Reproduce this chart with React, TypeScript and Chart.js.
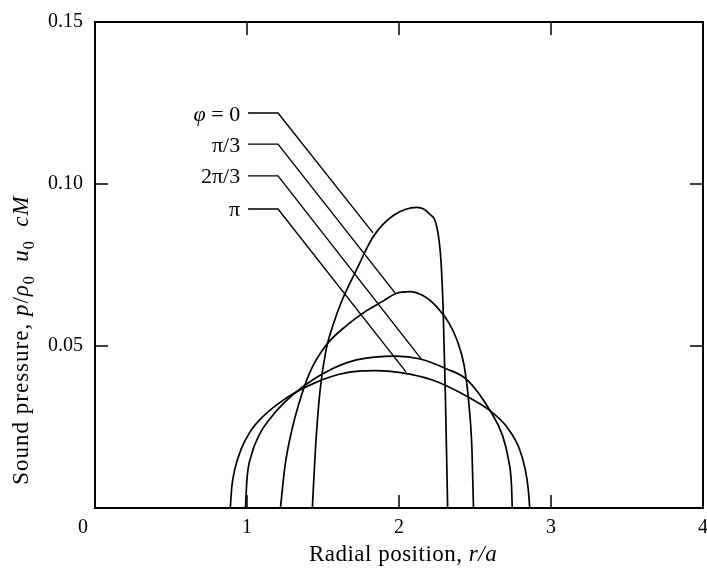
import React, { useEffect, useRef } from "react";
import { Chart, registerables } from "chart.js";

Chart.register(...registerables);

// ---- curve data (r/a, p/ρ0u0cM) ----
const phi0X = [1.43, 1.45, 1.48, 1.52, 1.57, 1.62, 1.72, 1.83, 1.96, 2.12, 2.2, 2.25, 2.275, 2.29, 2.305, 2.32];
const phi0Y = [0, 0.018, 0.036, 0.0488, 0.057, 0.0635, 0.0735, 0.0837, 0.0902, 0.0928, 0.0908, 0.0865, 0.077, 0.062, 0.035, 0];

const pi3X = [1.22, 1.25, 1.29, 1.34, 1.41, 1.52, 1.66, 1.79, 1.9, 1.98, 2.07, 2.16, 2.25, 2.33, 2.38, 2.43, 2.46, 2.48, 2.49];
const pi3Y = [0, 0.013, 0.023, 0.032, 0.0415, 0.0502, 0.0565, 0.061, 0.064, 0.0662, 0.0668, 0.0655, 0.062, 0.057, 0.052, 0.0436, 0.032, 0.018, 0];

const twoPi3X = [0.99, 1.0, 1.03, 1.08, 1.15, 1.24, 1.37, 1.52, 1.72, 1.98, 2.14, 2.31, 2.45, 2.6, 2.68, 2.72, 2.74, 2.745];
const twoPi3Y = [0, 0.009, 0.0165, 0.0225, 0.0275, 0.0323, 0.0375, 0.042, 0.0457, 0.0469, 0.046, 0.043, 0.0395, 0.03, 0.0225, 0.015, 0.007, 0];

const piX = [0.89, 0.9, 0.92, 0.96, 1.02, 1.1, 1.2, 1.32, 1.45, 1.6, 1.75, 1.85, 2.01, 2.22, 2.45, 2.6, 2.71, 2.79, 2.83, 2.85, 2.86];
const piY = [0, 0.0065, 0.012, 0.018, 0.0235, 0.028, 0.032, 0.0357, 0.0387, 0.0412, 0.0423, 0.0424, 0.0418, 0.0395, 0.0344, 0.03, 0.025, 0.0185, 0.012, 0.006, 0];

// ---- curve labels with leader lines ----
const labelNames = ["φ = 0", "π/3", "2π/3", "π"];
const labelTextX = 0.955; // right edge of label text (data units)
const leaderStartX = 1.007;
const leaderCornerX = 1.204;
const leaderY = [0.1219, 0.1123, 0.1025, 0.0923];
const leaderEndX = [1.829, 1.974, 2.151, 2.046];
const leaderEndY = [0.0849, 0.0664, 0.0457, 0.042];

// ---- axes ----
const xMin = 0, xMax = 4, xStep = 1;
const yMin = 0, yMax = 0.15, yStep = 0.05;
const xInnerTicks = [1, 2, 3];
const yInnerTicks = [0.05, 0.1];
const originLabel = "0";
const xTitle = "Radial position, ";
const xTitleItalic = "r/a";

const FONT = "'Liberation Serif', 'DejaVu Serif', serif";

const toPts = (xs: number[], ys: number[]) => xs.map((x, i) => ({ x, y: ys[i] }));

type Run = { t: string; it?: boolean; sub?: boolean };

function drawRuns(
  ctx: CanvasRenderingContext2D,
  runs: Run[],
  size: number,
  align: "center" | "right",
  spacing = 0
) {
  const fontFor = (r: Run) => `${r.it ? "italic " : ""}${r.sub ? Math.round(size * 0.7) : size}px ${FONT}`;
  (ctx as any).letterSpacing = spacing + "px";
  let total = 0;
  const widths = runs.map((r) => {
    ctx.font = fontFor(r);
    const w = ctx.measureText(r.t).width;
    total += w;
    return w;
  });
  let cx = align === "center" ? -total / 2 : -total;
  ctx.textAlign = "left";
  ctx.textBaseline = "alphabetic";
  runs.forEach((r, i) => {
    ctx.font = fontFor(r);
    ctx.fillText(r.t, cx, r.sub ? size * 0.25 : 0);
    cx += widths[i];
  });
  (ctx as any).letterSpacing = "0px";
}

const decorPlugin = {
  id: "decor",
  afterDraw(chart: any) {
    const { ctx, chartArea, scales } = chart;
    const { left, right, top, bottom } = chartArea;
    const xs = scales.x, ys = scales.y;
    ctx.save();
    ctx.strokeStyle = "#000";
    ctx.fillStyle = "#000";
    ctx.lineWidth = 2;
    ctx.beginPath();
    ctx.moveTo(left, top);
    ctx.lineTo(right, top);
    ctx.lineTo(right, bottom);
    ctx.stroke();
    ctx.lineWidth = 1.5;
    const tl = 13;
    xInnerTicks.forEach((v) => {
      const px = xs.getPixelForValue(v);
      ctx.beginPath();
      ctx.moveTo(px, bottom);
      ctx.lineTo(px, bottom - tl);
      ctx.moveTo(px, top);
      ctx.lineTo(px, top + tl);
      ctx.stroke();
    });
    yInnerTicks.forEach((v) => {
      const py = ys.getPixelForValue(v);
      ctx.beginPath();
      ctx.moveTo(left, py);
      ctx.lineTo(left + tl, py);
      ctx.moveTo(right, py);
      ctx.lineTo(right - tl, py);
      ctx.stroke();
    });

    // origin label, set a little left of the corner
    ctx.font = `20px ${FONT}`;
    ctx.textAlign = "center";
    ctx.textBaseline = "middle";
    ctx.fillText(originLabel, xs.getPixelForValue(0) - 12, bottom + 20);

    // curve labels
    labelNames.forEach((name, i) => {
      const px = xs.getPixelForValue(labelTextX);
      const py = ys.getPixelForValue(leaderY[i]);
      ctx.save();
      ctx.translate(px, py + 7.5);
      const runs: Run[] = name.startsWith("φ") ? [{ t: "φ", it: true }, { t: " = 0" }] : [{ t: name }];
      drawRuns(ctx, runs, 22, "right");
      ctx.restore();
    });

    // x title
    ctx.save();
    ctx.translate((left + right) / 2 + 4, 561);
    drawRuns(ctx, [{ t: xTitle }, { t: xTitleItalic, it: true }], 23, "center", 0.5);
    ctx.restore();

    // y title
    ctx.save();
    ctx.translate(28, 340);
    ctx.rotate(-Math.PI / 2);
    drawRuns(
      ctx,
      [
        { t: "Sound pressure, " },
        { t: "p", it: true },
        { t: "/" },
        { t: "ρ", it: true },
        { t: "0", sub: true },
        { t: "  u", it: true },
        { t: "0", sub: true },
        { t: "  cM", it: true },
      ],
      23,
      "center",
      1
    );
    ctx.restore();
    ctx.restore();
  },
};

export default function App() {
  const ref = useRef<HTMLCanvasElement | null>(null);
  useEffect(() => {
    if (!ref.current) return;
    const curveStyle = {
      showLine: true,
      borderColor: "#000",
      borderWidth: 1.7,
      pointRadius: 0,
      fill: false,
      cubicInterpolationMode: "monotone" as const,
    };
    const leaderStyle = {
      showLine: true,
      borderColor: "#000",
      borderWidth: 1.4,
      pointRadius: 0,
      fill: false,
      tension: 0,
    };
    const curves = [
      { label: labelNames[0], data: toPts(phi0X, phi0Y), ...curveStyle },
      { label: labelNames[1], data: toPts(pi3X, pi3Y), ...curveStyle },
      { label: labelNames[2], data: toPts(twoPi3X, twoPi3Y), ...curveStyle },
      { label: labelNames[3], data: toPts(piX, piY), ...curveStyle },
    ];
    const leaders = labelNames.map((n, i) => ({
      label: n + " leader",
      data: [
        { x: leaderStartX, y: leaderY[i] },
        { x: leaderCornerX, y: leaderY[i] },
        { x: leaderEndX[i], y: leaderEndY[i] },
      ],
      ...leaderStyle,
    }));
    const chart = new Chart(ref.current, {
      type: "scatter",
      data: { datasets: [...curves, ...leaders] as any },
      options: {
        responsive: false,
        animation: false,
        layout: { padding: { top: 22, right: 4, left: 0, bottom: 0 } },
        plugins: { legend: { display: false }, tooltip: { enabled: false } },
        scales: {
          x: {
            type: "linear",
            min: xMin,
            max: xMax,
            ticks: {
              stepSize: xStep,
              color: "#000",
              padding: 8,
              font: { family: FONT, size: 20 },
              callback: (v: any) => (Number(v) === 0 ? "" : String(v)),
            },
            grid: { display: false, drawTicks: false, tickLength: 0 },
            border: { display: true, color: "#000", width: 2 },
            afterFit: (s: any) => {
              s.height = 60;
              s.paddingLeft = 0;
              s.paddingRight = 0;
            },
          },
          y: {
            type: "linear",
            min: yMin,
            max: yMax,
            ticks: {
              stepSize: yStep,
              color: "#000",
              padding: 12,
              font: { family: FONT, size: 20 },
              callback: (v: any) => (Number(v) === 0 ? "" : Number(v).toFixed(2)),
            },
            grid: { display: false, drawTicks: false, tickLength: 0 },
            border: { display: true, color: "#000", width: 2 },
            afterFit: (s: any) => {
              s.width = 95;
              s.paddingTop = 0;
              s.paddingBottom = 0;
            },
          },
        },
      },
      plugins: [decorPlugin],
    });
    return () => chart.destroy();
  }, []);
  return (
    <div style={{ position: "absolute", left: 0, top: 0, width: 707, height: 568, background: "#fff" }}>
      <canvas ref={ref} width={707} height={568} />
    </div>
  );
}
